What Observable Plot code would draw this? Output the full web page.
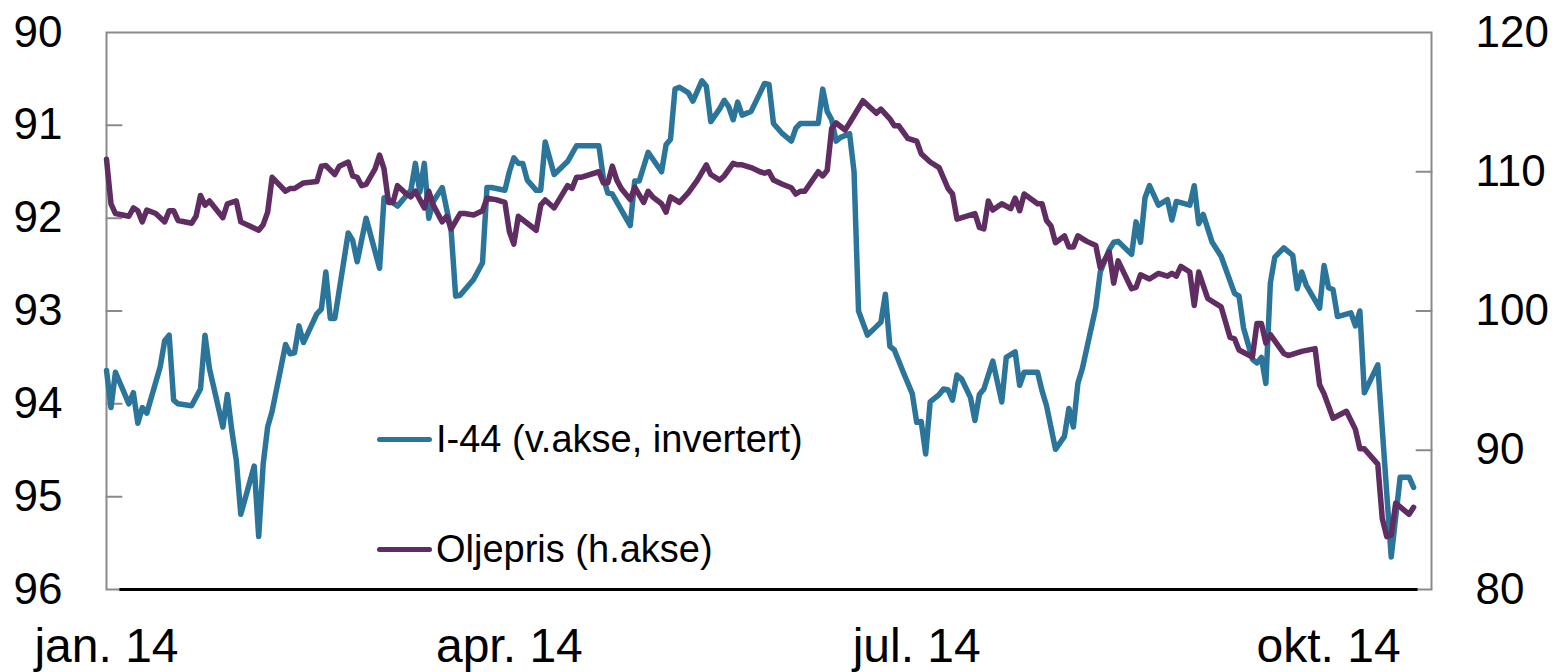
<!DOCTYPE html>
<html>
<head>
<meta charset="utf-8">
<script src="https://cdn.jsdelivr.net/npm/d3@7"></script>
<script src="https://cdn.jsdelivr.net/npm/@observablehq/plot@0.6"></script>
<style>
html, body { margin: 0; padding: 0; background: #fff; }
#wrap { position: relative; width: 1557px; height: 672px; font-family: "Liberation Sans", Arial, sans-serif; }
.legend { position: absolute; left: 377px; height: 38px; line-height: 38px; font-size: 38px; color: #000; display: flex; align-items: center; white-space: nowrap; }
.swatch { display: inline-block; width: 55px; height: 5px; border-radius: 3px; margin-right: 4px; }
</style>
</head>
<body>
<div id="wrap"></div>
<script>
// ---- data ----
const i44Dates = [
  "2014-01-01","2014-01-02","2014-01-03","2014-01-06","2014-01-07","2014-01-08","2014-01-09","2014-01-10","2014-01-13","2014-01-14","2014-01-15","2014-01-16","2014-01-17","2014-01-20","2014-01-22","2014-01-23","2014-01-24","2014-01-27","2014-01-28","2014-01-29","2014-01-30","2014-01-31",
  "2014-02-03","2014-02-04","2014-02-05","2014-02-06","2014-02-07","2014-02-10","2014-02-11","2014-02-12","2014-02-13","2014-02-14","2014-02-17","2014-02-18","2014-02-19","2014-02-20","2014-02-21","2014-02-24","2014-02-25","2014-02-26","2014-02-28",
  "2014-03-03","2014-03-04","2014-03-05","2014-03-07","2014-03-10","2014-03-11","2014-03-12","2014-03-13","2014-03-14","2014-03-15","2014-03-17","2014-03-19","2014-03-20","2014-03-21","2014-03-24","2014-03-26","2014-03-27","2014-03-28","2014-03-31",
  "2014-04-01","2014-04-02","2014-04-03","2014-04-04","2014-04-05","2014-04-07","2014-04-08","2014-04-09","2014-04-11","2014-04-14","2014-04-16","2014-04-21","2014-04-22","2014-04-23","2014-04-24","2014-04-28","2014-04-29","2014-04-30",
  "2014-05-02","2014-05-05","2014-05-06","2014-05-07","2014-05-08","2014-05-09","2014-05-11","2014-05-12","2014-05-14","2014-05-15","2014-05-16","2014-05-18","2014-05-19","2014-05-20","2014-05-21","2014-05-22","2014-05-23","2014-05-25","2014-05-27","2014-05-28","2014-05-29","2014-05-30",
  "2014-06-01","2014-06-03","2014-06-04","2014-06-05","2014-06-09","2014-06-10","2014-06-11","2014-06-12","2014-06-13","2014-06-14","2014-06-16","2014-06-17","2014-06-18","2014-06-20","2014-06-23","2014-06-24","2014-06-25","2014-06-26","2014-06-28","2014-06-30",
  "2014-07-01","2014-07-02","2014-07-03","2014-07-04","2014-07-06","2014-07-07","2014-07-08","2014-07-09","2014-07-10","2014-07-11","2014-07-13","2014-07-14","2014-07-15","2014-07-16","2014-07-18","2014-07-20","2014-07-21","2014-07-23","2014-07-24","2014-07-25","2014-07-28","2014-07-29","2014-07-30",
  "2014-08-01","2014-08-03","2014-08-04","2014-08-05","2014-08-06","2014-08-07","2014-08-10","2014-08-11","2014-08-13","2014-08-14","2014-08-15","2014-08-18","2014-08-19","2014-08-20","2014-08-21","2014-08-22","2014-08-24","2014-08-26","2014-08-27","2014-08-28","2014-08-31",
  "2014-09-01","2014-09-02","2014-09-03","2014-09-05","2014-09-07","2014-09-10","2014-09-11","2014-09-12","2014-09-14","2014-09-15","2014-09-16","2014-09-17","2014-09-18","2014-09-19","2014-09-21","2014-09-23","2014-09-24","2014-09-25","2014-09-26","2014-09-29","2014-09-30",
  "2014-10-01","2014-10-02","2014-10-03","2014-10-06","2014-10-07","2014-10-08","2014-10-09","2014-10-12","2014-10-15","2014-10-17","2014-10-19","2014-10-20"
];
const i44Values = [
  93.64,94.04,93.66,94.0,93.88,94.21,94.04,94.1,93.6,93.32,93.26,93.96,94.0,94.02,93.84,93.26,93.62,94.25,93.9,94.29,94.61,95.19,
  94.67,95.43,94.65,94.25,94.08,93.36,93.46,93.45,93.16,93.34,93.03,92.98,92.58,93.08,93.08,92.16,92.24,92.47,92.0,
  92.54,91.78,91.8,91.87,91.7,91.41,91.72,91.41,92.0,91.82,91.67,92.14,92.84,92.83,92.66,92.48,91.67,91.67,91.7,
  91.5,91.35,91.41,91.41,91.59,91.7,91.7,91.18,91.53,91.39,91.22,91.22,91.57,91.73,91.74,92.08,91.6,91.6,
  91.29,91.5,91.21,91.15,90.61,90.59,90.65,90.74,90.52,90.58,90.96,90.82,90.73,90.8,90.94,90.75,90.89,90.85,90.65,90.55,90.56,90.98,
  91.09,91.17,91.03,90.98,90.98,90.61,90.85,90.94,91.17,91.13,91.09,91.5,93.0,93.26,93.12,92.82,93.38,93.42,93.66,93.89,
  94.2,94.19,94.54,93.98,93.9,93.84,93.85,93.96,93.69,93.73,93.93,94.18,93.9,93.84,93.54,93.98,93.5,93.44,93.8,93.66,93.66,93.86,94.02,
  94.49,94.35,94.05,94.25,93.78,93.62,92.96,92.58,92.34,92.26,92.25,92.39,92.04,92.26,91.78,91.65,91.86,91.8,92.02,91.82,91.86,
  91.65,92.06,91.96,92.26,92.41,92.81,92.84,93.18,93.52,93.56,93.5,93.78,92.7,92.42,92.32,92.4,92.76,92.58,92.72,92.97,92.51,
  92.75,92.77,93.06,93.02,93.16,93.0,93.88,93.58,95.65,94.79,94.79,94.9
];
const oilDates = [
  "2014-01-01","2014-01-02","2014-01-03","2014-01-06","2014-01-07","2014-01-08","2014-01-09","2014-01-10","2014-01-12","2014-01-13","2014-01-14","2014-01-15","2014-01-16","2014-01-17","2014-01-20","2014-01-21","2014-01-22","2014-01-23","2014-01-24","2014-01-27","2014-01-28","2014-01-30","2014-01-31",
  "2014-02-02","2014-02-04","2014-02-05","2014-02-06","2014-02-07","2014-02-10","2014-02-11","2014-02-12","2014-02-14","2014-02-17","2014-02-18","2014-02-19","2014-02-21","2014-02-22","2014-02-24","2014-02-25","2014-02-26","2014-02-27","2014-02-28",
  "2014-03-02","2014-03-03","2014-03-04","2014-03-05","2014-03-06","2014-03-07","2014-03-09","2014-03-10","2014-03-11","2014-03-12","2014-03-13","2014-03-14","2014-03-15","2014-03-17","2014-03-18","2014-03-19","2014-03-21","2014-03-22","2014-03-24","2014-03-26","2014-03-27","2014-03-29","2014-03-31",
  "2014-04-01","2014-04-02","2014-04-03","2014-04-05","2014-04-07","2014-04-08","2014-04-09","2014-04-11","2014-04-14","2014-04-15","2014-04-16","2014-04-17","2014-04-21","2014-04-22","2014-04-23","2014-04-24","2014-04-25","2014-04-26","2014-04-28","2014-04-29",
  "2014-05-01","2014-05-02","2014-05-03","2014-05-05","2014-05-06","2014-05-07","2014-05-09","2014-05-11","2014-05-13","2014-05-15","2014-05-16","2014-05-18","2014-05-19","2014-05-21","2014-05-22","2014-05-23","2014-05-25","2014-05-27","2014-05-28","2014-05-29","2014-05-30",
  "2014-06-01","2014-06-03","2014-06-04","2014-06-05","2014-06-06","2014-06-09","2014-06-10","2014-06-11","2014-06-12","2014-06-13","2014-06-15","2014-06-16","2014-06-19","2014-06-22","2014-06-23","2014-06-25","2014-06-26","2014-06-27","2014-06-29",
  "2014-07-01","2014-07-02","2014-07-04","2014-07-06","2014-07-08","2014-07-09","2014-07-10","2014-07-12","2014-07-14","2014-07-15","2014-07-16","2014-07-17","2014-07-18","2014-07-20","2014-07-22","2014-07-23","2014-07-24","2014-07-25","2014-07-28","2014-07-29","2014-07-30","2014-07-31",
  "2014-08-01","2014-08-03","2014-08-04","2014-08-05","2014-08-06","2014-08-08","2014-08-10","2014-08-11","2014-08-13","2014-08-14","2014-08-15","2014-08-18","2014-08-19","2014-08-20","2014-08-22","2014-08-24","2014-08-26","2014-08-27","2014-08-28","2014-08-29","2014-08-31",
  "2014-09-01","2014-09-02","2014-09-04","2014-09-07","2014-09-09","2014-09-10","2014-09-11","2014-09-14","2014-09-15","2014-09-16","2014-09-17","2014-09-18","2014-09-21","2014-09-22","2014-09-25","2014-09-28","2014-09-29","2014-09-30",
  "2014-10-02","2014-10-05","2014-10-07","2014-10-08","2014-10-09","2014-10-12","2014-10-13","2014-10-14","2014-10-15","2014-10-16","2014-10-19","2014-10-20"
];
const oilValues = [
  110.9,107.7,107.0,106.8,107.4,107.2,106.4,107.25,107.0,106.7,106.4,107.2,107.2,106.5,106.3,106.8,108.3,107.6,107.9,106.7,107.7,107.9,106.4,
  106.1,105.8,106.2,107.1,109.6,108.6,108.8,108.8,109.2,109.3,110.4,110.45,109.8,110.4,110.7,109.7,109.6,109.0,109.1,
  110.2,111.2,110.2,107.8,107.8,109.0,108.4,108.2,108.6,108.0,107.4,108.6,107.6,106.4,106.8,105.9,107.0,107.0,106.9,107.2,108.1,108.0,107.8,
  105.7,104.8,106.8,106.3,105.8,107.6,107.97,107.4,109.0,108.8,109.6,109.6,110.0,109.2,109.2,110.4,109.4,108.8,108.0,108.9,
  107.8,108.6,108.2,107.7,107.1,108.2,107.8,108.5,109.4,110.5,109.8,109.4,109.7,110.6,110.5,110.5,110.3,110.0,109.9,110.0,109.4,
  109.1,108.85,108.4,108.6,108.6,110.0,109.7,110.1,113.1,113.5,113.0,113.5,115.1,114.2,114.5,113.8,113.3,113.3,112.4,
  112.2,111.3,110.7,110.3,108.8,108.4,106.6,106.8,107.0,106.0,105.9,107.9,107.25,107.7,107.35,108.1,107.2,108.4,107.7,107.7,106.5,106.1,
  104.9,105.4,104.6,104.6,105.4,105.0,104.7,103.1,104.25,102.0,103.6,101.6,101.7,102.6,102.3,102.7,102.5,102.7,102.5,103.2,102.8,
  100.4,102.8,100.9,100.3,98.1,98.0,97.2,96.7,99.1,99.1,97.7,98.3,96.95,96.8,97.1,97.3,94.7,94.05,
  92.3,92.8,91.5,90.1,90.1,89.0,85.1,83.8,83.9,86.2,85.4,85.9
];
const seriesNames = ["I-44 (v.akse, invertert)", "Oljepris (h.akse)"];
const seriesColors = ["#2c759a", "#5f2d61"];
const leftTickValues = [90, 91, 92, 93, 94, 95, 96];
const leftInnerTicks = [91, 92, 93, 94, 95];
const rightTickValues = [120, 110, 100, 90, 80];
const rightInnerTicks = [110, 100, 90];
const xTickDates = ["2014-01-01", "2014-04-01", "2014-07-01", "2014-10-01"];
const xTickLabels = ["jan. 14", "apr. 14", "jul. 14", "okt. 14"];
const xDomainDates = ["2014-01-01", "2014-10-24"];
const xAxisLineDates = ["2014-01-04", "2014-10-21"];
const leftDomain = [96, 90];   // inverted
const rightDomain = [80, 120];

// ---- helpers ----
const parse = d3.utcParse("%Y-%m-%d");
// map right-axis (oil) values onto the left-axis scale
const toLeft = d3.scaleLinear().domain(rightDomain).range(leftDomain);
const fromLeft = toLeft.invert;

const i44 = i44Dates.map((d, i) => ({date: parse(d), value: i44Values[i]}));
const oil = oilDates.map((d, i) => ({date: parse(d), value: toLeft(oilValues[i])}));
const xTicks = xTickDates.map(parse);
const tickLine = {draw(ctx, l) { ctx.moveTo(0, 0); ctx.lineTo(0, -l); }};
const font = "'Liberation Sans', Arial, sans-serif";

const chart = Plot.plot({
  width: 1557,
  height: 672,
  marginLeft: 106,
  marginRight: 126,
  marginTop: 32,
  marginBottom: 83,
  style: {fontFamily: font, background: "#fff", color: "#000", overflow: "visible"},
  x: {type: "utc", domain: xDomainDates.map(parse)},
  y: {domain: leftDomain},
  marks: [
    Plot.frame({stroke: "#8a8a8a", strokeWidth: 2}),
    Plot.vector(leftInnerTicks, {y: d => d, frameAnchor: "left", rotate: 90, length: 15, anchor: "start", shape: tickLine, stroke: "#8a8a8a", strokeWidth: 2}),
    Plot.vector(rightInnerTicks.map(toLeft), {y: d => d, frameAnchor: "right", rotate: -90, length: 15, anchor: "start", shape: tickLine, stroke: "#8a8a8a", strokeWidth: 2}),
    Plot.ruleY([leftDomain[0]], {x1: parse(xAxisLineDates[0]), x2: parse(xAxisLineDates[1]), stroke: "#000", strokeWidth: 3}),
    Plot.axisY(leftTickValues, {anchor: "left", tickSize: 0, tickPadding: 44, fontSize: 44, tickFormat: d => String(d), label: null}),
    Plot.axisY(rightTickValues.map(toLeft), {anchor: "right", tickSize: 0, tickPadding: 44, fontSize: 44, tickFormat: d => String(Math.round(fromLeft(d))), label: null}),
    Plot.axisX(xTicks, {anchor: "bottom", tickSize: 0, tickPadding: 38, fontSize: 48, tickFormat: (d) => xTickLabels[xTicks.findIndex(t => +t === +d)], label: null}),
    Plot.lineY(i44, {x: "date", y: "value", stroke: seriesColors[0], strokeWidth: 5.5, strokeLinejoin: "round", strokeLinecap: "round"}),
    Plot.lineY(oil, {x: "date", y: "value", stroke: seriesColors[1], strokeWidth: 5.5, strokeLinejoin: "round", strokeLinecap: "round"})
  ]
});

const wrap = document.getElementById("wrap");
wrap.appendChild(chart);

const legendTops = [420, 530];
seriesNames.forEach((name, i) => {
  const row = document.createElement("div");
  row.className = "legend";
  row.style.top = legendTops[i] + "px";
  const sw = document.createElement("span");
  sw.className = "swatch";
  sw.style.background = seriesColors[i];
  const label = document.createElement("span");
  label.textContent = name;
  row.appendChild(sw);
  row.appendChild(label);
  wrap.appendChild(row);
});
</script>
</body>
</html>
